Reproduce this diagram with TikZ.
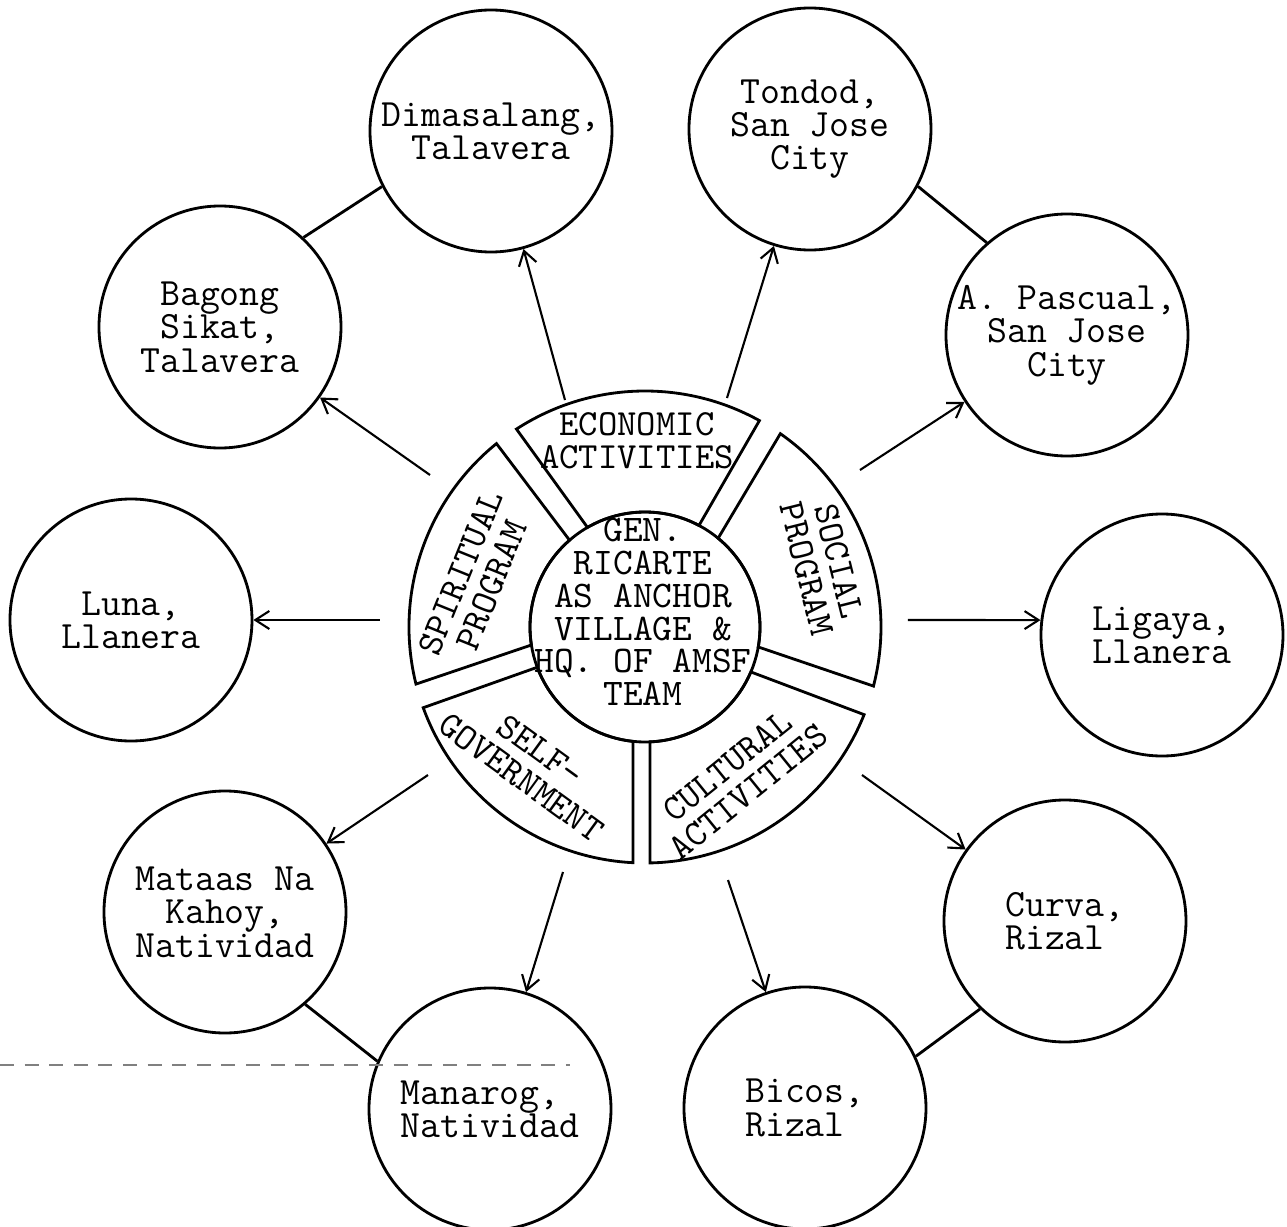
\documentclass[tikz,border=0pt]{standalone}
\usepackage{fontspec}
\usepackage{tikz}
\usetikzlibrary{arrows.meta,positioning}

\begin{document}
\begin{tikzpicture}[
    village/.style={circle, draw, thick, minimum size=2.42cm, inner sep=-2pt, align=center, font=\ttfamily\fontsize{11}{9.5}\selectfont},
    tag/.style={align=center, font=\ttfamily\fontsize{10.5}{9.5}\selectfont},
    link/.style={-{Straight Barb[length=1.4mm,width=1.8mm]}, semithick},
    scale=1]

\useasboundingbox (-6.45,-5.99) rectangle (6.42,6.27);

% Anchor village in the middle
\draw[thick] (0,0) circle (1.15);
\node[align=center, font=\ttfamily\fontsize{10.7}{9.3}\selectfont] (hub) at (-0.02,0.15) {GEN.\\RICARTE\\AS ANCHOR\\VILLAGE \&\\HQ. OF AMSF\\TEAM};

% Ring of programs
\foreach \ia/\ib/\oa/\ob in {62/120/61/123, -10/50.5/-14.5/55, -87.5/-23/-88.8/-21.8, 200.5/264/200/267.1, 131/189/129/194}
    \draw[thick] (\ia:1.15) arc[start angle=\ia, end angle=\ib, radius=1.15] -- (\ob:2.36) arc[start angle=\ob, end angle=\oa, radius=2.36] -- cycle;

\node[tag] (econ) at (-0.08,1.86) {ECONOMIC\\ACTIVITIES};
\node[tag, rotate=68] (spirit) at (-1.69,0.48) {SPIRITUAL\\PROGRAM};
\node[tag, rotate=-76] (social) at (1.78,0.62) {SOCIAL\\PROGRAM};
\node[tag, rotate=-36] (selfgov) at (-1.14,-1.37) {SELF-\\GOVERNMENT};
\node[tag, rotate=39] (culture) at (0.93,-1.52) {CULTURAL\\ACTIVITIES};

% Satellite villages
\node[village] (dim) at (-1.54,4.96) {Dimasalang,\\Talavera};
\node[village] (ton) at (1.65,4.98) {Tondod,\\San Jose\\City};
\node[village] (bag) at (-4.25,3.00) {Bagong\\Sikat,\\Talavera};
\node[village] (pas) at (4.22,2.92) {A. Pascual,\\San Jose\\City};
\node[village] (lun) at (-5.14,0.07) {Luna,\\Llanera};
\node[village, align=left] (lig) at (5.17,-0.08) {Ligaya,\\Llanera};
\node[village] (mat) at (-4.20,-2.85) {Mataas Na\\Kahoy,\\Natividad};
\node[village, align=left] (cur) at (4.20,-2.94) {Curva,\\Rizal};
\node[village, align=left] (man) at (-1.55,-4.82) {Manarog,\\Natividad};
\node[village, align=left] (bic) at (1.60,-4.81) {Bicos,\\Rizal};

% Arrow starts just outside the ring
\coordinate (s-dim) at (-0.80,2.27);
\coordinate (s-ton) at (0.82,2.29);
\coordinate (s-bag) at (-2.15,1.52);
\coordinate (s-pas) at (2.15,1.57);
\coordinate (s-lun) at (-2.65,0.07);
\coordinate (s-mat) at (-2.17,-1.48);
\coordinate (s-cur) at (2.17,-1.48);
\coordinate (s-man) at (-0.82,-2.45);
\coordinate (s-bic) at (0.83,-2.53);
\coordinate (s-lig) at (2.63,0.07);

\foreach \s in {dim,ton,bag,pas,lun,mat,cur,man,bic}
    \draw[link] (s-\s) -- (\s);
\draw[link] (s-lig) -- (lig.173);

% Neighbour links
\draw[thick] (bag.47) -- (dim.207);
\draw[thick] (ton.-28) -- (pas.131);
\draw[thick] (mat.-49) -- (man.157);
\draw[thick] (bic.25) -- (cur.226);

% Ruled line across the bottom left
\draw[gray, dash pattern=on 4pt off 3pt] (-6.45,-4.38) -- (-0.75,-4.38);

\end{tikzpicture}
\end{document}
